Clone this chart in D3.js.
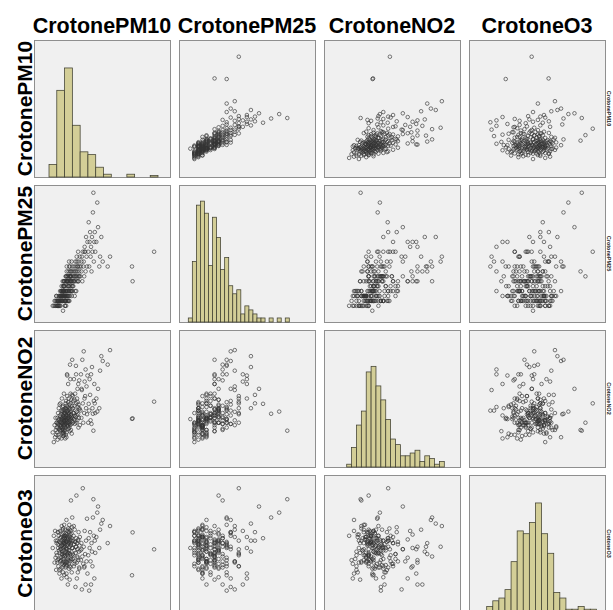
<!DOCTYPE html>
<html>
<head>
<meta charset="utf-8">
<script src="https://cdn.jsdelivr.net/npm/d3@7"></script>
<style>
  body { margin: 0; background: #fff; }
  text { font-family: "Liberation Sans", Arial, sans-serif; }
</style>
</head>
<body>
<div id="chart"></div>
<script>
// variable names (column / row labels)
var names = ["CrotonePM10", "CrotonePM25", "CrotoneNO2", "CrotoneO3"];

// daily values, one entry per day (same order in every array)
var pm10 = [7.4, 8.1, 8.6, 8.9, 9.2, 9.4, 9.6, 9.8, 9.9,
  10.1, 10.3, 10.4, 10.6, 10.8, 10.9, 11.0, 11.2, 11.3, 11.5, 11.6, 11.7, 11.9, 12.0, 12.1, 12.2, 12.3, 12.4, 12.5, 12.6,
  12.7, 12.8, 12.9, 13.0, 13.0, 13.1, 13.2, 13.3, 13.4, 13.5, 13.5, 13.6, 13.7, 13.8, 13.8, 13.9, 14.0, 14.0, 14.1, 14.2,
  14.2, 14.3, 14.4, 14.4, 14.5, 14.5, 14.6, 14.6, 14.7, 14.7, 14.8, 14.8, 14.9, 14.9, 10.5, 11.1, 11.8, 12.3, 12.9, 13.6, 14.1, 14.3,
  15.0, 15.1, 15.2, 15.3, 15.4, 15.5, 15.6, 15.7, 15.8, 15.9, 15.1, 15.3, 15.5, 15.7, 15.9, 16.0, 16.1, 16.2, 16.3, 16.4,
  16.5, 16.6, 16.7, 16.8, 16.9, 16.0, 16.2, 16.4, 16.6, 16.8, 17.0, 17.1, 17.2, 17.3, 17.4, 17.5, 17.6, 17.7, 17.8, 17.9,
  17.0, 17.3, 17.6, 17.9, 18.0, 18.1, 18.2, 18.3, 18.4, 18.5, 18.6, 18.7, 18.8, 18.9, 18.1, 18.4, 18.7, 19.0, 19.1, 19.2,
  19.3, 19.4, 19.5, 19.6, 19.7, 19.8, 19.9, 19.2, 19.5, 19.8, 15.4, 15.8, 16.3, 16.7, 17.2, 17.7, 18.2, 18.8,
  20.1, 20.3, 20.4, 20.6, 20.8, 21.0, 21.1, 21.3, 21.5, 21.6, 21.8, 22.0, 22.1, 22.3, 22.5, 22.6, 22.8, 23.0, 23.2, 23.3,
  23.5, 23.7, 23.9, 24.0, 24.2, 24.4, 24.6, 24.8, 20.2, 20.9, 21.4, 21.9, 22.4, 22.9, 23.4, 23.8, 24.5,
  25.2, 25.5, 25.8, 26.1, 26.4, 26.7, 27.0, 27.3, 27.6, 27.9, 28.2, 28.5, 28.8, 29.1, 29.4, 29.7, 25.9, 27.8,
  30.2, 30.5, 30.8, 31.1, 31.4, 31.7, 32.0, 32.3, 32.6, 32.9, 33.2, 33.5, 33.8, 34.1, 34.4, 34.7,
  35.4, 36.0, 36.5, 37.3, 37.8, 38.6, 39.5, 42.7, 44.2, 58.3, 58.7, 72.5];

var pm25 = [5, 5, 6, 5, 6, 5, 7, 6, 7,
  5, 5, 6, 5, 6, 6, 5, 7, 6, 5, 6, 7, 5, 6, 8, 6, 7, 5, 6, 7, 7, 6, 8, 7, 6, 9, 7, 8, 6, 7,
  8, 7, 6, 10, 7, 8, 4, 9, 7, 8, 8, 9, 7, 10, 8, 6, 9, 8, 7, 10, 8, 9, 10, 7, 6, 5, 6, 7, 8, 6, 7, 8,
  6, 7, 5, 8, 6, 7, 10, 6, 8, 7, 9, 6, 7, 11, 8, 5, 10, 7, 6, 12, 8, 10, 7, 9, 6, 11, 8, 13, 10, 7,
  10, 8, 11, 6, 9, 12, 7, 10, 8, 14, 11, 10, 6, 9, 13, 8, 11, 10, 7, 12, 10, 11, 9, 8, 6, 13, 11, 10, 12, 8,
  11, 10, 14, 7, 12, 9, 13, 11, 10, 8, 5, 6, 11, 10, 7, 9, 11, 8,
  8, 10, 11, 9, 12, 10, 13, 11, 7, 12, 10, 14, 11, 13, 8, 11, 15, 10, 12, 11, 13, 16, 10, 14, 11, 12, 13, 15, 9, 10,
  11, 8, 12, 14, 13, 10, 11,
  11, 13, 12, 15, 10, 16, 13, 14, 11, 17, 16, 12, 19, 15, 13, 18, 14, 16,
  16, 22, 13, 18, 20, 15, 17, 12, 19, 16, 24, 28, 14, 18, 20, 16,
  18, 26, 21, 13, 15, 19, 14, 13, 15, 13, 10, 16];

var no2 = [9, 5, 12, 7, 15, 10, 8, 13, 11,
  13, 9, 15, 11, 17, 12.5, 8, 14, 19, 10.5, 14.5, 7, 12, 16, 10, 13.5, 21, 9.5, 15.5, 12, 11.5, 18, 13, 6.5, 14, 16.5, 10, 23, 12.5, 8.5,
  15, 17.5, 11, 13, 19.5, 9, 14.5, 20, 12, 16, 7.5, 15.5, 10.5, 18.5, 13.5, 8, 14, 25, 11.5, 17, 12.5, 15, 9.5, 16.5, 6, 13, 20.5, 11, 14.5, 18, 10, 8.5,
  14, 12, 17, 10, 19, 13, 15, 21, 8, 16, 13.5, 18, 11, 15.5, 22, 12.5, 16.5, 14.5, 9, 20, 17.5, 13, 24, 15, 11.5, 18.5, 7, 14, 33, 12,
  16, 19.5, 13, 21.5, 15, 10.5, 17, 23, 14.5, 12.5, 18, 29, 13.5, 16.5, 11, 15.5, 20.5, 9.5, 14, 37, 12, 17.5, 25, 15, 19, 13, 31, 16, 10, 14.5,
  22.5, 18.5, 12.5, 8.5, 15.5, 20, 39, 16.5, 13.5, 24.5, 6.5, 14, 19, 32.5, 11.5, 17, 18.5, 21,
  15, 19, 13, 22, 17, 31, 14.5, 20, 16, 12.5, 25, 18, 15.5, 36.5, 21, 13, 17.5, 23, 14, 27, 19.5, 16.5, 11, 20.5, 15, 30.5, 18.5, 12, 24, 17,
  22.5, 14, 33, 16, 21.5, 29, 19,
  18, 33, 15, 26.5, 39, 21, 13, 42.5, 17, 30, 24, 35, 19, 28, 16.5, 32.5, 27, 23,
  13, 20.8, 18, 31, 24.5, 14, 33, 12.5, 36, 19, 16.7, 9.7, 22, 29, 21, 17,
  23, 17.6, 27, 19, 34.5, 40.5, 38.5, 37, 43, 14.6, 14.8, 21.7];

var o3 = [78, 88, 66, 92, 70, 84, 60, 74, 82,
  72, 84, 66, 91, 78, 81, 63, 88, 69, 76, 83, 57, 74, 86, 67, 92, 79, 82, 61, 70, 87, 68, 77, 53, 84, 73, 96, 65, 80, 89,
  75, 62, 93, 71, 81, 66, 78, 58, 85, 83, 69, 90, 76, 64, 82, 72, 88, 67, 97, 79, 84, 56, 74, 86, 68, 91, 60, 77, 80, 73, 94, 87,
  82, 71, 88, 66, 79, 93, 62, 84, 75, 63, 86, 81, 72, 90, 67, 83, 77, 57, 89, 64, 80, 73, 69, 92, 85, 78, 101, 83, 66, 87,
  74, 48, 81, 94, 68, 86, 76, 82, 61, 91, 84, 70, 88, 65, 97, 79, 83, 52, 87, 73, 67, 85, 81, 92, 76, 63, 89, 80, 117, 69,
  84, 72, 90, 58, 86, 78, 103, 82, 68, 95, 65, 88, 54, 77, 72, 74, 93, 62,
  78, 84, 69, 72, 88, 63, 81, 76, 93, 67, 83, 46, 74, 79, 86, 121, 66, 82, 71, 77, 58, 84, 68, 91, 75, 62, 80, 87, 73, 96,
  65, 83, 79, 53, 70, 85, 61,
  76, 68, 82, 44, 71, 127, 65, 79, 62, 92, 73, 48, 84, 67, 102, 57, 77, 63,
  72, 86, 43, 78, 91, 67, 48, 82, 75, 63, 103, 118, 88, 53, 84, 74,
  87, 107, 112, 78, 93, 98, 101, 82, 96, 55.6, 90.8, 76.9];

// histogram bins per variable
var binStart = [5, 3.5, 4, 40];
var binEnd = [75, 28.5, 44, 130];
var binStep = [5, 1, 2, 5];
var histTop = [98, 34, 49, 49];

var cols = [pm10, pm25, no2, o3];

var W = 136, H = 137, stepX = 145, stepY = 145, left0 = 34, top0 = 40;
// where each variable's bin range sits inside a panel (px from left / from bottom)
var xRange = [[15, 124], [9.3, 110.3], [22.7, 120.3], [17.7, 127.4]];
var yRange = [[14.2, 124.2], [8.8, 131.7], [22.5, 119.3], [17.7, 127.4]];

var xs = cols.map(function (c, k) {
  return d3.scaleLinear().domain([binStart[k], binEnd[k]]).range(xRange[k]);
});
var ys = cols.map(function (c, k) {
  return d3.scaleLinear().domain([binStart[k], binEnd[k]]).range([H - yRange[k][0], H - yRange[k][1]]);
});

var svg = d3.select("#chart").append("svg")
  .attr("width", 613)
  .attr("height", 610);

// column titles
svg.selectAll(".ctitle")
  .data(names)
  .enter().append("text")
    .attr("x", function (d, j) { return left0 + j * stepX + W / 2; })
    .attr("y", 33)
    .attr("text-anchor", "middle")
    .style("font-size", "21.5px")
    .style("font-weight", "bold")
    .text(function (d) { return d; });

// row titles
svg.selectAll(".rtitle")
  .data(names)
  .enter().append("text")
    .attr("transform", function (d, i) { return "translate(32," + (top0 + i * stepY + H / 2) + ") rotate(-90)"; })
    .attr("text-anchor", "middle")
    .style("font-size", "21px")
    .style("font-weight", "bold")
    .text(function (d) { return d; });

// small labels on the right edge
svg.selectAll(".rsmall")
  .data(names)
  .enter().append("text")
    .attr("transform", function (d, i) { return "translate(607," + (top0 + i * stepY + H / 2) + ") rotate(90)"; })
    .attr("text-anchor", "middle")
    .style("font-size", "5.5px")
    .style("font-weight", "bold")
    .style("fill", "#222")
    .text(function (d) { return d; });

for (var i = 0; i < 4; i++) {
  for (var j = 0; j < 4; j++) {
    var g = svg.append("g")
      .attr("transform", "translate(" + (left0 + j * stepX) + "," + (top0 + i * stepY) + ")");

    g.append("rect")
      .attr("x", 0.5).attr("y", 0.5)
      .attr("width", W).attr("height", H)
      .style("fill", "#f0f0f0")
      .style("stroke", "#8f8f8f")
      .style("stroke-width", 1);

    if (i == j) {
      var bins = d3.bin()
        .domain([binStart[j], binEnd[j]])
        .thresholds(d3.range(binStart[j] + binStep[j], binEnd[j] - 1e-9, binStep[j]))(cols[j]);
      var cy = d3.scaleLinear().domain([0, histTop[j]]).range([H, 0]);
      g.selectAll("rect.bar")
        .data(bins.filter(function (b) { return b.length > 0; }))
        .enter().append("rect")
          .attr("class", "bar")
          .attr("x", function (b) { return xs[j](b.x0); })
          .attr("width", function (b) { return xs[j](b.x1) - xs[j](b.x0); })
          .attr("y", function (b) { return cy(b.length); })
          .attr("height", function (b) { return H - cy(b.length); })
          .style("fill", "#d3ce97")
          .style("stroke", "#3f3f30")
          .style("stroke-width", 0.75);
    } else {
      var xv = cols[j], yv = cols[i];
      g.selectAll("circle")
        .data(d3.range(xv.length))
        .enter().append("circle")
          .attr("cx", function (n) { return xs[j](xv[n]); })
          .attr("cy", function (n) { return ys[i](yv[n]); })
          .attr("r", 1.8)
          .style("fill", "none")
          .style("stroke", "#333")
          .style("stroke-width", 0.65);
    }
  }
}
</script>
</body>
</html>
